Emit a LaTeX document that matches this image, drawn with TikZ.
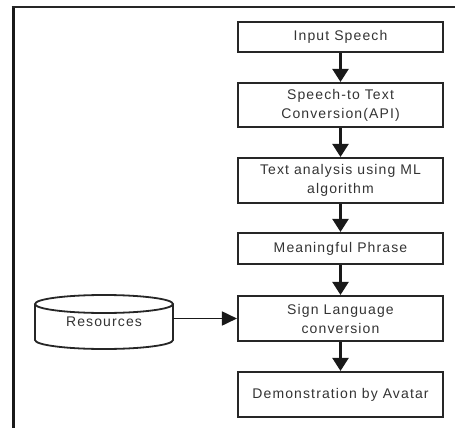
\documentclass[tikz,border=0pt]{standalone}
\usepackage{fontspec}
\setmainfont[LetterSpace=8]{Liberation Sans}
\usetikzlibrary{arrows.meta,calc}
\begin{document}
\begin{tikzpicture}[x=1pt,y=-1pt,
  fbox/.style={draw=black!85, line width=2.1pt, minimum width=205pt, align=center,
    font=\fontsize{14}{19}\selectfont, text=black!80, inner sep=0pt},
  flow/.style={line width=2.2pt, draw=black!90, -{Triangle[width=16pt,length=13pt]}}]
\useasboundingbox (0,0) rectangle (455,428);
% frame (cropped)
\draw[line width=3pt, black!90] (13,428) -- (13,7);
\draw[line width=2pt, black!85] (11.5,7) -- (455,7);
% boxes
\node[fbox, minimum height=30pt] (in)   at (340.5,37)    {Input Speech};
\node[fbox, minimum height=44pt] (stt)  at (340.5,105)   {Speech-to Text\\Conversion(API)};
\node[fbox, minimum height=45pt] (ta)   at (340.5,180.5) {Text analysis using ML\\algorithm};
\node[fbox, minimum height=31pt] (mp)   at (340.5,248.5) {Meaningful Phrase};
\node[fbox, minimum height=45pt] (sl)   at (340.5,318.5) {Sign Language\\conversion};
\node[fbox, minimum height=45pt] (demo) at (340.5,394.5) {Demonstration by Avatar};
% cylinder
\node[minimum width=138pt, minimum height=55pt, inner sep=0pt,
      font=\fontsize{14}{19}\selectfont, text=black!80] (res) at (104,322) {Resources};
\draw[line width=1.8pt, black!85]
  (35,304) -- (35,340) arc[start angle=180,end angle=360,x radius=69pt,y radius=9pt]
  -- (173,304);
\draw[line width=1.8pt, black!85] (104,304) ellipse[x radius=69pt, y radius=9pt];
% connectors
\draw[flow] (in) -- (stt);
\draw[flow] (stt) -- (ta);
\draw[flow] (ta) -- (mp);
\draw[flow] (mp) -- (sl);
\draw[flow] (sl) -- (demo);
\draw[flow, line width=1.8pt, -{Triangle[width=14pt,length=15pt]}] (res.east |- sl.west) -- (sl.west);
\end{tikzpicture}
\end{document}
